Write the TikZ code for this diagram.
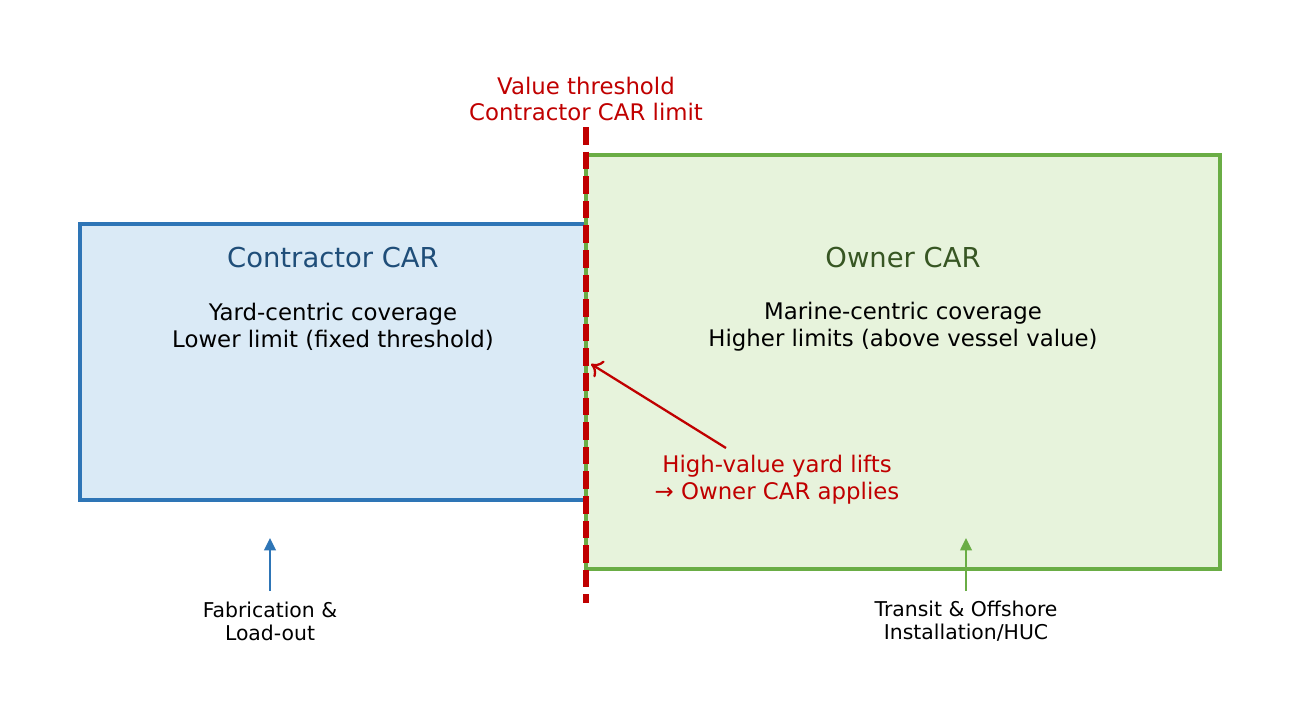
\documentclass[tikz,border=0pt]{standalone}
\usepackage{fontspec}
\setmainfont{DejaVu Sans}
\usetikzlibrary{positioning}
\usetikzlibrary{shapes,arrows.meta}
\definecolor{carblue}{HTML}{2E75B6}
\definecolor{carbluefill}{HTML}{DAEAF6}
\definecolor{carbluetext}{HTML}{1F4E79}
\definecolor{ownergreen}{HTML}{6AAD45}
\definecolor{ownergreenfill}{HTML}{E7F3DC}
\definecolor{ownergreentext}{HTML}{375623}
\definecolor{thrred}{HTML}{C00000}
\tikzstyle{contractorbox} = [rectangle, draw=carblue, fill=carbluefill, line width=2.7pt,
    minimum width=10.12cm, minimum height=5.52cm, inner sep=0pt]
\tikzstyle{ownerbox} = [rectangle, draw=ownergreen, fill=ownergreenfill, line width=2.7pt,
    minimum width=12.68cm, minimum height=8.28cm, inner sep=0pt]
\tikzstyle{title} = [font=\fontsize{15.6}{18.5}\selectfont, inner sep=0pt]
\tikzstyle{body} = [font=\fontsize{13}{15.3}\selectfont, align=center, inner sep=0pt]
\tikzstyle{phase} = [font=\fontsize{11.6}{13}\selectfont, align=center, inner sep=0pt]
\tikzstyle{threshold} = [draw=thrred, line width=3pt, dash pattern=on 10pt off 4pt]
\tikzstyle{line} = [draw, line width=1.3pt, -{Triangle[length=7pt,width=6.5pt]}]

\begin{document}
\begin{tikzpicture}[x=0.02cm, y=-0.02cm]
    \useasboundingbox (0,0) rectangle (1300,724);
    % Place nodes
    \node [contractorbox] (contractor) at (333,362) {};
    \node [ownerbox] (owner) at (903,362) {};
    \node [title, text=carbluetext] (ctitle) at (333,258) {Contractor CAR};
    \node [body] (cbody) at (333,327) {Yard-centric coverage\\Lower limit (fixed threshold)};
    \node [title, text=ownergreentext] (otitle) at (903,258) {Owner CAR};
    \node [body] (obody) at (903,327) {Marine-centric coverage\\Higher limits (above vessel value)};
    \node [body, text=thrred] (thrlabel) at (586,99) {Value threshold\\Contractor CAR limit};
    \node [body, text=thrred] (lifts) at (777,480) {High-value yard lifts\\→ Owner CAR applies};
    \node [phase] (fab) at (270,621) {Fabrication \&\\Load-out};
    \node [phase] (transit) at (966,621) {Transit \& Offshore\\Installation/HUC};
    \coordinate (thrtop) at (586,127);
    \coordinate (thrbot) at (586,603);
    \coordinate (liftsfrom) at (726,448);
    \coordinate (liftsto) at (591,364);
    \coordinate (fabfrom) at (270,591);
    \coordinate (fabto) at (270,538);
    \coordinate (transitfrom) at (966,591);
    \coordinate (transitto) at (966,538);

    % Draw edges
    \path [threshold] (thrtop) -- (thrbot);
    \path [draw=thrred, line width=1.3pt, -{To[length=6pt,width=11pt]}] (liftsfrom) -- (liftsto);
    \path [line, carblue] (fabfrom) -- (fabto);
    \path [line, ownergreen] (transitfrom) -- (transitto);
\end{tikzpicture}
\end{document}
